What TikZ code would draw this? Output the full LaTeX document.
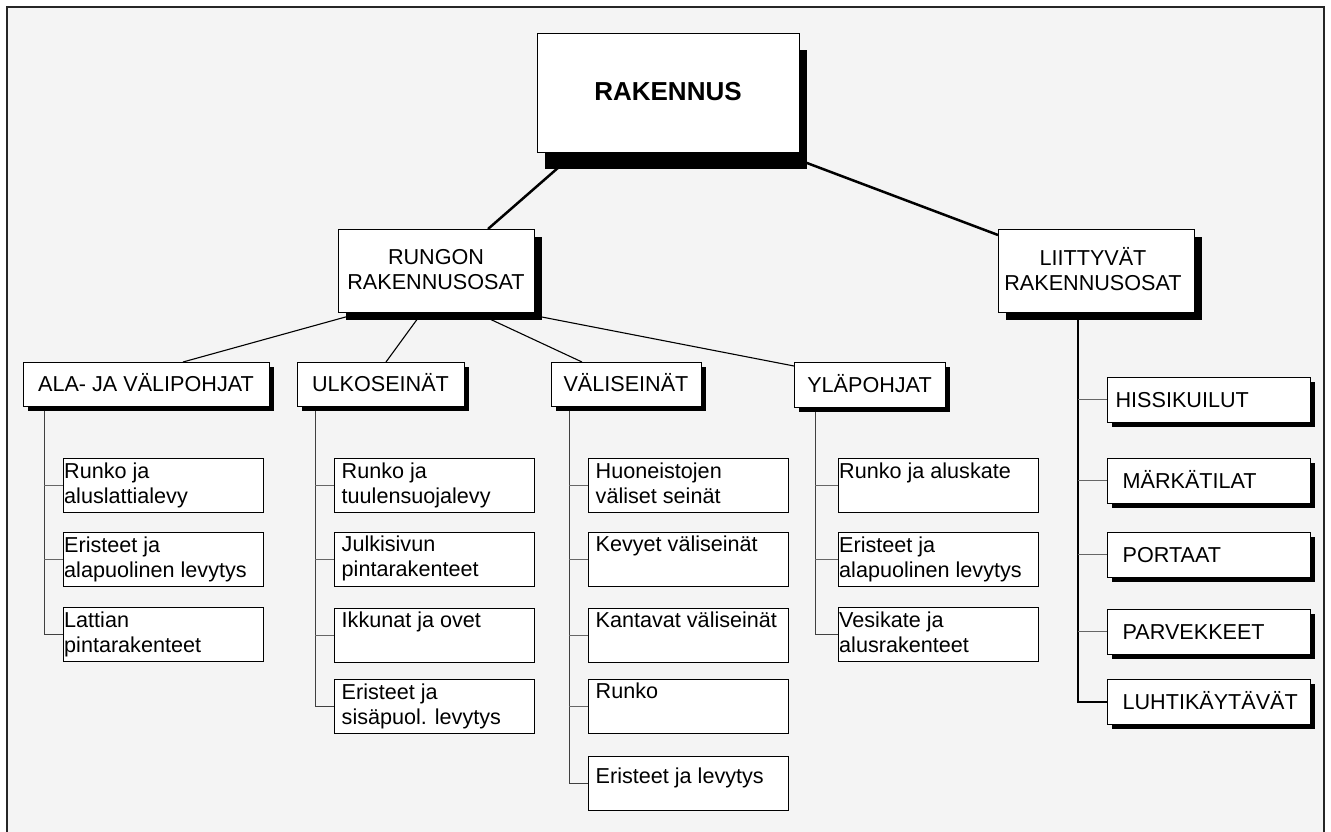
\documentclass[tikz,border=0pt]{standalone}
\usepackage{fontspec}
\setmainfont{Liberation Sans}
\usetikzlibrary{shadows,calc}
\definecolor{bggray}{RGB}{244,244,244}
\pgfdeclarelayer{bg}
\pgfdeclarelayer{lines}
\pgfsetlayers{bg,lines,main}
\newcommand{\fs}{\fontsize{21.6}{25.5}\selectfont}
\newcommand{\st}{\rule{0pt}{17pt}}
\tikzset{
  box/.style={draw=black, line width=1pt, fill=white, inner sep=0pt, outer sep=0pt, anchor=north west},
  bigshadow/.style={drop shadow={shadow xshift=8pt, shadow yshift=-16pt, fill=black, opacity=1}},
  midshadow/.style={drop shadow={shadow xshift=8pt, shadow yshift=-7.5pt, fill=black, opacity=1}},
  smallshadow/.style={drop shadow={shadow xshift=4.5pt, shadow yshift=-4.5pt, fill=black, opacity=1}},
  catbox/.style={box, smallshadow, minimum height=44pt, font=\fs, text height=15pt, text depth=0pt},
  leaf/.style={box, minimum width=200pt, minimum height=54pt},
  sidebox/.style={box, smallshadow, minimum width=203pt, minimum height=45pt},
  txt/.style={font=\fs, align=left, inner sep=0pt, anchor=north west},
  captxt/.style={font=\fs, inner sep=0pt, anchor=west, text height=15pt, text depth=0pt},
  topline/.style={line width=2.5pt, black},
  midline/.style={line width=1.1pt, black},
  stem/.style={line width=1pt, black!75},
  branch/.style={line width=1pt, black!60},
  bigstem/.style={line width=2pt, black}
}
\begin{document}
\begin{tikzpicture}[x=1pt, y=-1pt]
\useasboundingbox (0,0) rectangle (1331,832);
\begin{pgfonlayer}{bg}
  \fill[white] (0,0) rectangle (1331,832);
  \fill[bggray] (7,7) rectangle (1324,832);
  \draw[line width=2.5pt, black!85] (7,832) -- (7,7) -- (1324,7) -- (1324,832);
\end{pgfonlayer}

% top
\node[box, bigshadow, minimum width=262pt, minimum height=119pt,
      font=\fontsize{26}{30}\selectfont\bfseries, text height=18.6pt, text depth=4pt] (rak) at (537,34) {RAKENNUS};

% second level
\node[box, midshadow, minimum width=196pt, minimum height=83pt] (rungon) at (338,229) {};
\node[txt, anchor=north, align=center] (rungon-t) at ([yshift=-18pt]rungon.north) {\st RUNGON\\RAKENNUSOSAT};
\node[box, midshadow, minimum width=196pt, minimum height=83pt] (liit) at (998,229) {};
\node[txt, anchor=north, align=center] (liit-t) at ([xshift=-3pt,yshift=-18pt]liit.north) {\st LIITTYVÄT\\RAKENNUSOSAT};

% third level
\node[catbox, minimum width=246pt] (ala) at (23,362) {ALA- JA VÄLIPOHJAT};
\node[catbox, minimum width=167pt] (ulko) at (297,362) {ULKOSEINÄT};
\node[catbox, minimum width=150pt] (vali) at (551,362) {VÄLISEINÄT};
\node[catbox, minimum width=151pt, minimum height=45pt] (yla) at (794,362) {YLÄPOHJAT};

% ALA leaves
\node[leaf] (a1) at (63,458) {};
\node[leaf] (a2) at (63,532) {};
\node[leaf] (a3) at (63,607) {};
\node[txt] (a1-t) at ([xshift=1pt,yshift=-3pt]a1.north west) {\st Runko ja\\aluslattialevy};
\node[txt] (a2-t) at ([xshift=1pt,yshift=-3pt]a2.north west) {\st Eristeet ja\\alapuolinen levytys};
\node[txt] (a3-t) at ([xshift=1pt,yshift=-3pt]a3.north west) {\st Lattian\\pintarakenteet};

% ULKO leaves
\node[leaf] (u1) at (334,458) {};
\node[leaf] (u2) at (334,532) {};
\node[leaf] (u3) at (334,608) {};
\node[leaf] (u4) at (334,679) {};
\node[txt] (u1-t) at ([xshift=7.5pt,yshift=-3pt]u1.north west) {\st Runko ja\\tuulensuojalevy};
\node[txt] (u2-t) at ([xshift=7.5pt,yshift=-2pt]u2.north west) {\st Julkisivun\\pintarakenteet};
\node[txt] (u3-t) at ([xshift=7.5pt,yshift=-2pt]u3.north west) {\st Ikkunat ja ovet};
\node[txt] (u4-t) at ([xshift=7.5pt,yshift=-3pt]u4.north west) {\st Eristeet ja\\sisäpuol. levytys};

% VALI leaves
\node[leaf] (v1) at (588,458) {};
\node[leaf] (v2) at (588,532) {};
\node[leaf] (v3) at (588,608) {};
\node[leaf] (v4) at (588,679) {};
\node[leaf] (v5) at (588,756) {};
\node[txt] (v1-t) at ([xshift=7.5pt,yshift=-3pt]v1.north west) {\st Huoneistojen\\väliset seinät};
\node[txt] (v2-t) at ([xshift=7.5pt,yshift=-2pt]v2.north west) {\st Kevyet väliseinät};
\node[txt] (v3-t) at ([xshift=7.5pt,yshift=-2pt]v3.north west) {\st Kantavat väliseinät};
\node[txt] (v4-t) at ([xshift=7.5pt,yshift=-2pt]v4.north west) {\st Runko};
\node[txt] (v5-t) at ([xshift=7.5pt,yshift=-10pt]v5.north west) {\st Eristeet ja levytys};

% YLA leaves
\node[leaf] (y1) at (838,458) {};
\node[leaf] (y2) at (838,532) {};
\node[leaf] (y3) at (838,607) {};
\node[txt] (y1-t) at ([xshift=1pt,yshift=-3pt]y1.north west) {\st Runko ja aluskate};
\node[txt] (y2-t) at ([xshift=1pt,yshift=-3pt]y2.north west) {\st Eristeet ja\\alapuolinen levytys};
\node[txt] (y3-t) at ([xshift=1pt,yshift=-3pt]y3.north west) {\st Vesikate ja\\alusrakenteet};

% right column
\node[sidebox] (r1) at (1107,377) {};
\node[sidebox] (r2) at (1107,458) {};
\node[sidebox] (r3) at (1107,532) {};
\node[sidebox] (r4) at (1107,609) {};
\node[sidebox] (r5) at (1107,679) {};
\node[captxt] (r1-t) at ([xshift=8.4pt]r1.west) {HISSIKUILUT};
\node[captxt] (r2-t) at ([xshift=15.4pt]r2.west) {MÄRKÄTILAT};
\node[captxt] (r3-t) at ([xshift=15.4pt]r3.west) {PORTAAT};
\node[captxt] (r4-t) at ([xshift=15.4pt]r4.west) {PARVEKKEET};
\node[captxt] (r5-t) at ([xshift=15.4pt]r5.west) {LUHTIKÄYTÄVÄT};

\begin{pgfonlayer}{lines}
  % top connectors
  \draw[topline] ([xshift=-101pt,yshift=-7pt]rak.south) -- ([xshift=52pt]rungon.north);
  \draw[topline] ([xshift=-4pt,yshift=-5.5pt]rak.south east) -- ([yshift=-6pt]liit.north west);
  % second to third
  \draw[midline] ([xshift=-76pt,yshift=-1pt]rungon.south) -- ([xshift=37pt]ala.north);
  \draw[midline] ([xshift=-15pt,yshift=-2pt]rungon.south) -- ([xshift=5.5pt]ulko.north);
  \draw[midline] ([xshift=43pt,yshift=-2pt]rungon.south) -- ([xshift=-44pt]vali.north);
  \draw[midline] ([xshift=94pt,yshift=-2.7pt]rungon.south) -- ([yshift=-4pt]yla.north west);
  % stems
  \coordinate (as) at ([xshift=21pt]ala.south west);
  \coordinate (us) at ([xshift=18pt]ulko.south west);
  \coordinate (vs) at ([xshift=18pt]vali.south west);
  \coordinate (ys) at ([xshift=21pt]yla.south west);
  \coordinate (ls) at ([xshift=80pt]liit.south west);
  \draw[stem] (as) |- (a3.west);
  \draw[stem] (us) |- (u4.west);
  \draw[stem] (vs) |- (v5.west);
  \draw[stem] (ys) |- (y3.west);
  \draw[bigstem] (ls) |- (r5.west);
  \foreach \n in {a1,a2} \draw[branch] (\n.west) -- (\n.west -| as);
  \foreach \n in {u1,u2,u3} \draw[branch] (\n.west) -- (\n.west -| us);
  \foreach \n in {v1,v2,v3,v4} \draw[branch] (\n.west) -- (\n.west -| vs);
  \foreach \n in {y1,y2} \draw[branch] (\n.west) -- (\n.west -| ys);
  \foreach \n in {r1,r2,r3,r4} \draw[branch] (\n.west) -- (\n.west -| ls);
\end{pgfonlayer}
\end{tikzpicture}
\end{document}
